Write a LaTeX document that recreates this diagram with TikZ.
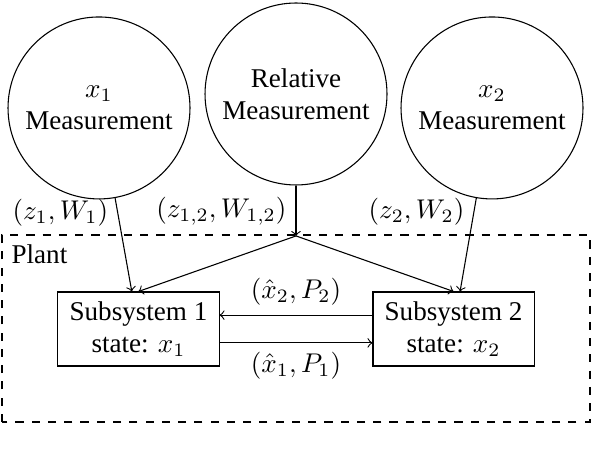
\documentclass[tikz,border=0pt]{standalone}
\usepackage{fontspec}
\setmainfont{Liberation Serif}
\usetikzlibrary{calc}

\begin{document}
\begin{tikzpicture}[
		meas/.style={draw, circle, align=center, minimum size=2.36cm, inner sep=0pt},
		subsys/.style={draw, rectangle, align=center, minimum width=2.09cm, minimum height=0.96cm},
		link/.style={->}
	]
			%%%%% START %%%%%
			\useasboundingbox (0, 0) rectangle (7.678, 5.940);
			
			\node[meas] (meas1) at (1.284, 4.540) {$x_1$\\Measurement};
			\node[meas] (measrel) at (3.839, 4.721) {Relative\\Measurement};
			\node[meas] (meas2) at (6.381, 4.540) {$x_2$\\Measurement};
			
			\draw[dashed] (0.026, 0.467) rectangle (7.652, 2.892);
			\node[anchor=north west] (plant) at (0.026, 2.892) {Plant};
			
			\node[subsys] (sub1) at (1.796, 1.673) {Subsystem 1\\state: $x_1$};
			\node[subsys] (sub2) at (5.882, 1.673) {Subsystem 2\\state: $x_2$};
			
			\coordinate (split) at (3.839, 2.880);
			
			\draw[link] (meas1) -- node[left, pos=0.16] {$(z_1,W_1)$} (sub1);
			\draw[link] (measrel) -- node[left] {$(z_{1,2},W_{1,2})$} (split);
			\draw[link] (meas2) -- node[left, pos=0.15] {$(z_2,W_2)$} (sub2);
			
			\draw[link] (split) -- (sub1.north);
			\draw[link] (split) -- (sub2.north);
			
			\draw[link] ([yshift=0.18cm]sub2.west) -- node[above] {$(\hat{x}_2,P_2)$} ([yshift=0.18cm]sub1.east);
			\draw[link] ([yshift=-0.18cm]sub1.east) -- node[below] {$(\hat{x}_1,P_1)$} ([yshift=-0.18cm]sub2.west);
			
			%%%%% END %%%%%
\end{tikzpicture}
\end{document}
